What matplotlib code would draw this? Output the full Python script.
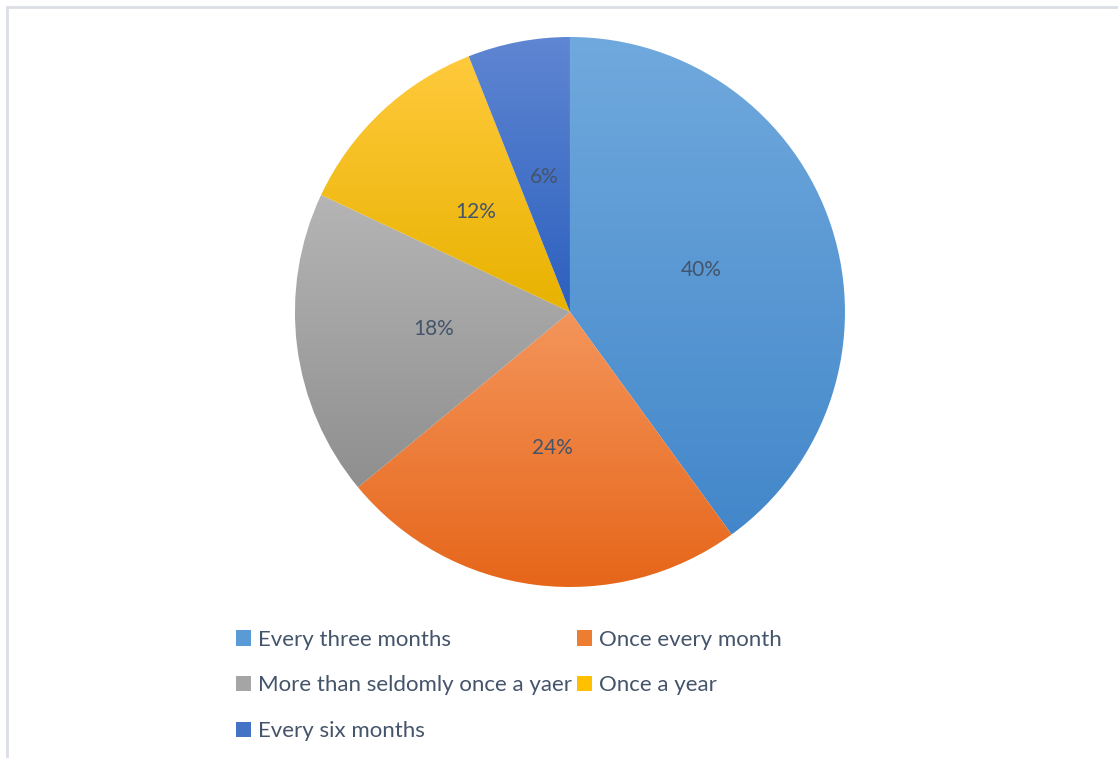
import matplotlib.pyplot as plt
import numpy as np
from matplotlib.colors import LinearSegmentedColormap
from matplotlib.patches import Rectangle, Patch

plt.rcParams['font.family'] = ['Lato', 'DejaVu Sans']

labels = ["Every three months", "Once every month", "More than seldomly once a yaer",
          "Once a year", "Every six months"]
shares = [40, 24, 18, 12, 6]

# light (top) and dark (bottom) shade of each slice
tops = ["#70a9dd", "#f4955b", "#b5b5b5", "#ffca3c", "#5f86d2"]
bottoms = ["#4387ca", "#e6661a", "#8f8f8f", "#e8b200", "#2c60be"]
swatch = ["#5b9bd5", "#ed7d31", "#a5a5a5", "#ffc000", "#4472c4"]
text_col = "#44546a"

fig = plt.figure(figsize=(11.18, 7.58), dpi=100)

# thin grey frame around the chart area
fig.patches.append(Rectangle((7 / 1118, -0.1), 1.2, 751 / 758 + 0.1, transform=fig.transFigure,
                             fill=False, edgecolor="#dadfe5", linewidth=2))

ax = fig.add_axes([0.2638, 0.2256, 0.492, 0.7256])
wedges, texts, autotexts = ax.pie(shares, startangle=90, counterclock=False,
                                  colors=swatch, autopct="%d%%", pctdistance=0.5,
                                  wedgeprops=dict(edgecolor="white", linewidth=0.8),
                                  textprops=dict(color=text_col, fontsize=15))

# vertical gradient inside each slice
for w, c1, c2 in zip(wedges, tops, bottoms):
    cmap = LinearSegmentedColormap.from_list("g", [c2, c1])
    bb = w.get_path().get_extents(w.get_patch_transform())
    grad = np.linspace(0, 1, 256).reshape(-1, 1)
    im = ax.imshow(grad, cmap=cmap, origin="lower", aspect="auto",
                   extent=[bb.x0, bb.x1, bb.y0, bb.y1], zorder=w.get_zorder())
    im.set_clip_path(w)
    w.set_facecolor("none")
for t in autotexts:
    t.set_zorder(5)
ax.set_xlim(-1, 1)
ax.set_ylim(-1, 1)
ax.set_aspect("equal")
ax.axis("off")

# legend reads left to right, two entries per row
order = [0, 2, 4, 1, 3]
handles = [Patch(facecolor=swatch[i], edgecolor="none") for i in order]
fig.legend(handles, [labels[i] for i in order], loc="upper left",
           bbox_to_anchor=(0.211, 0.1694), ncol=2,
           frameon=False, fontsize=16, labelcolor=text_col, handlelength=0.7,
           handleheight=0.7, handletextpad=0.3, columnspacing=0.2, labelspacing=1.16,
           borderpad=0, borderaxespad=0)

fig.savefig("out.png", dpi=100)
